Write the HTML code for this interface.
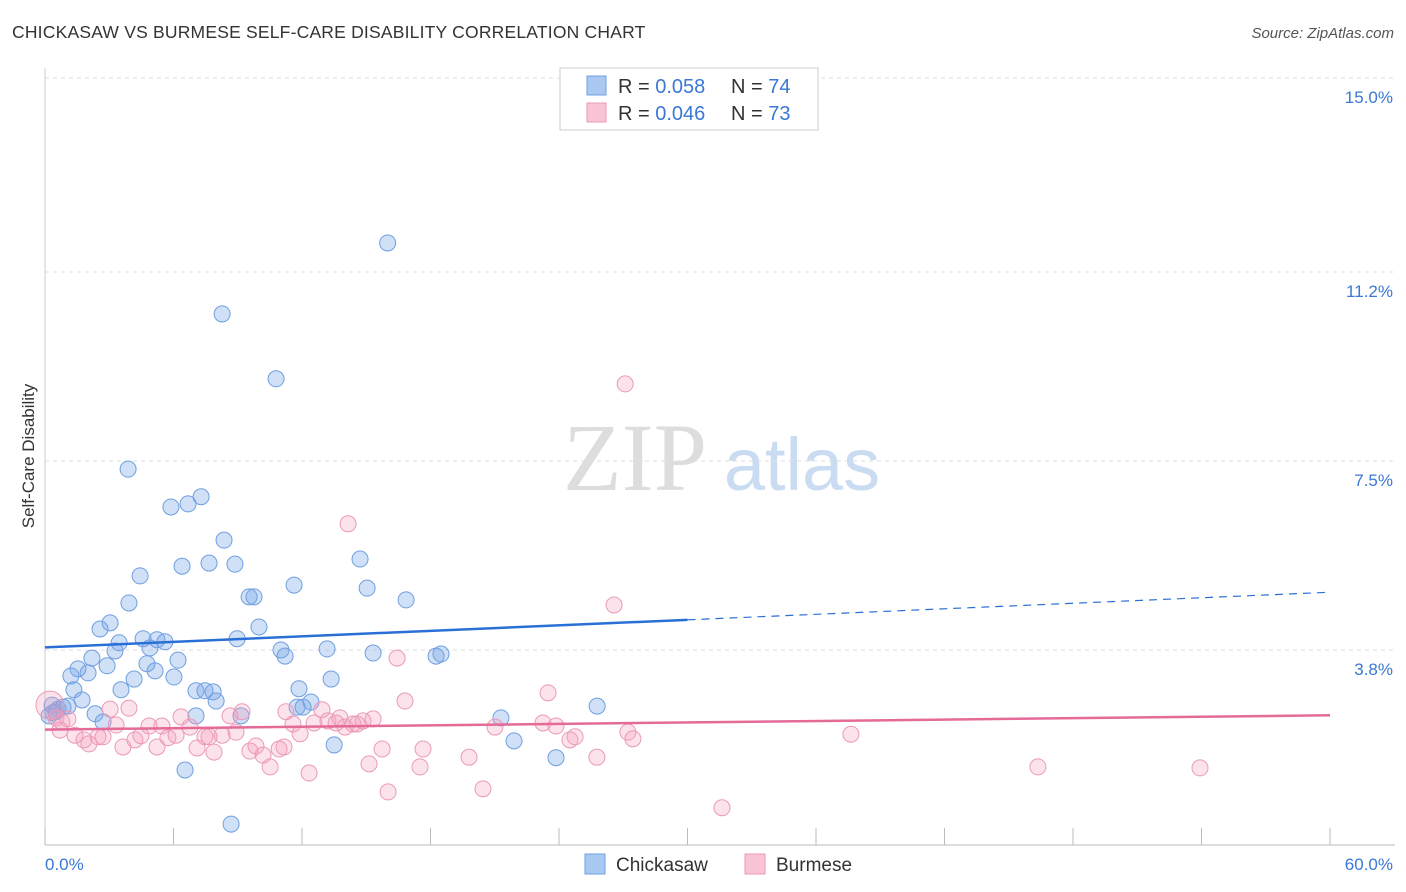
<!DOCTYPE html>
<html><head><meta charset="utf-8">
<style>
body{margin:0;background:#fff;font-family:"Liberation Sans",sans-serif;}
#wrap{position:relative;width:1406px;height:892px;overflow:hidden;}
.t{position:absolute;white-space:nowrap;}
</style></head>
<body>
<div id="wrap">
<div class="t" style="left:12px;top:22px;font-size:17.5px;color:#333;letter-spacing:0.2px;">CHICKASAW VS BURMESE SELF-CARE DISABILITY CORRELATION CHART</div>
<div class="t" style="right:12px;top:25px;font-size:15px;color:#555;font-style:italic;">Source: ZipAtlas.com</div>
<svg id="chart" width="1406" height="892" style="position:absolute;left:0;top:0"></svg>
</div>
<script>
const xTicks=[0,6,12,18,24,30,36,42,48,54,60];
const yTicks=[3.8,7.5,11.2,15.0];
const yTickLabels=["3.8%","7.5%","11.2%","15.0%"];
const chickX=[16.0,8.27,10.79,3.88,5.88,6.68,7.29,8.36,6.40,7.66,8.87,4.44,14.71,11.63,15.04,9.53,9.76,16.86,3.92,2.57,3.04,9.99,8.97,4.58,5.23,5.60,3.46,4.90,3.27,11.02,11.21,13.17,15.32,18.26,18.49,2.19,6.21,2.90,4.76,5.14,1.54,1.21,2.01,4.16,6.02,13.36,1.35,3.55,7.05,7.47,7.85,11.86,1.73,7.99,12.42,0.33,0.61,0.84,1.07,0.51,11.77,12.05,2.34,7.05,9.15,21.29,25.78,2.71,13.50,21.90,23.86,6.54,8.69,0.19,0.37];
const chickY=[11.77,10.38,9.11,7.34,6.60,6.66,6.80,5.95,5.44,5.50,5.48,5.25,5.58,5.07,5.01,4.84,4.84,4.78,4.72,4.21,4.33,4.25,4.02,4.02,4.0,3.96,3.94,3.84,3.78,3.80,3.68,3.82,3.74,3.68,3.72,3.64,3.60,3.49,3.53,3.39,3.43,3.29,3.35,3.23,3.27,3.23,3.02,3.02,3.0,3.0,2.98,3.04,2.82,2.80,2.78,2.72,2.64,2.68,2.70,2.59,2.68,2.68,2.55,2.51,2.51,2.47,2.70,2.39,1.94,2.02,1.69,1.45,0.39,2.51,2.57];
const burmX=[27.09,14.15,26.57,16.44,16.81,23.49,0.23,0.51,0.79,1.07,0.70,1.40,1.82,2.05,2.48,2.71,3.04,3.32,3.64,3.92,4.20,4.48,4.86,5.23,5.46,5.74,6.12,6.35,6.77,7.10,7.47,7.66,7.89,8.27,8.64,8.92,9.20,9.57,9.85,10.18,10.51,10.93,11.16,11.25,11.58,11.91,12.33,12.56,12.93,13.21,13.59,13.77,14.01,14.38,14.57,14.85,15.13,15.32,15.74,16.02,17.51,17.65,19.80,20.45,21.01,23.25,23.86,24.51,24.75,25.77,27.22,27.45,31.61,37.63,46.36,53.93];
const burmY=[9.01,6.27,4.68,3.64,2.80,2.96,2.72,2.47,2.39,2.45,2.23,2.13,2.04,1.96,2.10,2.10,2.64,2.33,1.90,2.66,2.04,2.12,2.31,1.90,2.31,2.08,2.13,2.49,2.29,1.88,2.10,2.10,1.80,2.13,2.51,2.19,2.59,1.82,1.92,1.74,1.51,1.86,1.90,2.59,2.35,2.16,1.39,2.37,2.63,2.41,2.37,2.47,2.29,2.35,2.35,2.41,1.57,2.45,1.86,1.02,1.51,1.86,1.70,1.08,2.29,2.37,2.31,2.04,2.10,1.70,2.19,2.06,0.71,2.15,1.51,1.49];
const chickTrend=[3.85,4.93];
const burmTrend=[2.24,2.52];
const legendR=["0.058","0.046"];
const legendN=["74","73"];

const svg=document.getElementById('chart');
const NS='http://www.w3.org/2000/svg';
const X=v=>45+v*(1285/60);
const Y=v=>844-v*(766/15);
function mk(tag,attrs,parent){const e=document.createElementNS(NS,tag);for(const k in attrs)e.setAttribute(k,attrs[k]);(parent||svg).appendChild(e);return e;}

// watermark
let w1=mk('text',{x:635,y:490,'font-size':96,'font-family':'Liberation Serif, serif',fill:'#ddd','text-anchor':'middle'});w1.textContent='ZIP';


let w2=mk('text',{x:802,y:490,'font-size':74,'font-family':'Liberation Sans, sans-serif',fill:'#c9dcf2','text-anchor':'middle'});w2.textContent='atlas';



// grid
yTicks.forEach((v,i)=>{
 const g=mk('line',{x1:45,x2:1395,y1:Y(v),y2:Y(v),stroke:'#ddd','stroke-dasharray':'4,4'});
 
 
 const t=mk('text',{x:1393,y:Y(v)+25,'font-size':17,fill:'#3a78d4','text-anchor':'end'});t.textContent=yTickLabels[i];
 
 
});
let ax=mk('line',{x1:45,x2:1395,y1:845,y2:845,stroke:'#bbb'});


let ay=mk('line',{x1:45,x2:45,y1:68,y2:845,stroke:'#ccc'});


xTicks.forEach(v=>{
 const t=mk('line',{x1:X(v),x2:X(v),y1:828,y2:845,stroke:'#bbb'});
 
 
});
let xl0=mk('text',{x:45,y:870,'font-size':17,fill:'#3a78d4'});xl0.textContent=xTicks[0].toFixed(1)+'%';


let xl1=mk('text',{x:1393,y:870,'font-size':17,fill:'#3a78d4','text-anchor':'end'});xl1.textContent=xTicks[xTicks.length-1].toFixed(1)+'%';


let yt=mk('text',{x:34,y:456,'font-size':17,fill:'#333','text-anchor':'middle',transform:'rotate(-90 34 456)'});yt.textContent='Self-Care Disability';



// points
chickX.forEach((x,i)=>{
 const c=mk('circle',{cx:X(x),cy:Y(chickY[i]),r:8,fill:'rgba(120,165,230,0.35)',stroke:'#6f9fe0','stroke-width':1});
 
 
});
burmX.forEach((x,i)=>{
 const c=mk('circle',{cx:X(x),cy:Y(burmY[i]),r:i==6?14:8,fill:'rgba(245,160,190,0.3)',stroke:'#eb9ab8','stroke-width':1});
 
 
});
// trends
const cMid=chickTrend[0]+(chickTrend[1]-chickTrend[0])*0.5;
let l1=mk('line',{x1:X(0),y1:Y(chickTrend[0]),x2:X(30),y2:Y(cMid),stroke:'#2a6fd6','stroke-width':2.5});


let l2=mk('line',{x1:X(30),y1:Y(cMid),x2:X(60),y2:Y(chickTrend[1]),stroke:'#2a6fd6','stroke-width':1.2,'stroke-dasharray':'8,6'});


let l3=mk('line',{x1:X(0),y1:Y(burmTrend[0]),x2:X(60),y2:Y(burmTrend[1]),stroke:'#e46a98','stroke-width':2.5});



// top legend
let lb=mk('rect',{x:560,y:68,width:258,height:62,fill:'#fff',stroke:'#ccc'});


[['#a9c8f2','#6f9fe0'],['#f8c4d6','#eb9ab8']].forEach((c,i)=>{
 const y=76+i*27;
 const s=mk('rect',{x:587,y:y,width:19,height:19,fill:c[0],stroke:c[1]});
 
 
 const t=mk('text',{x:618,y:y+17,'font-size':20,fill:'#333'});
 t.innerHTML='R = <tspan fill="#3a78d4">'+legendR[i]+'</tspan><tspan x="731">N = </tspan><tspan fill="#3a78d4">'+legendN[i]+'</tspan>';
 
 
});
// bottom legend
[['Chickasaw','#a9c8f2','#6f9fe0',585],['Burmese','#f8c4d6','#eb9ab8',745]].forEach(d=>{
 const s=mk('rect',{x:d[3],y:854,width:20,height:20,fill:d[1],stroke:d[2]});
 
 
 const t=mk('text',{x:d[3]+31,y:871,'font-size':19,fill:'#333'});t.textContent=d[0];
 
 
});
</script>
</body></html>
